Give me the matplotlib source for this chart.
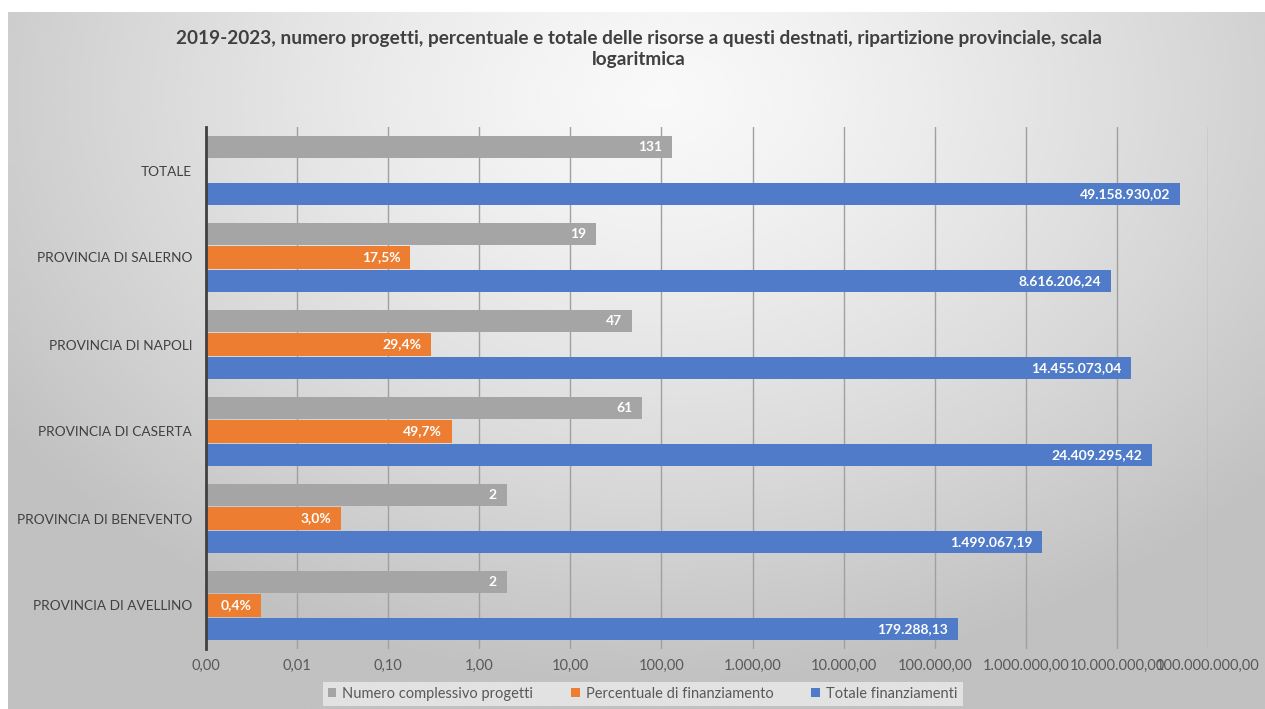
import numpy as np
import matplotlib
matplotlib.use("Agg")
import matplotlib.pyplot as plt
from matplotlib.ticker import FixedLocator, FuncFormatter

plt.rcParams["font.family"] = ["Lato", "DejaVu Sans"]

# data, bottom to top as in the chart
province = ["PROVINCIA DI AVELLINO", "PROVINCIA DI BENEVENTO", "PROVINCIA DI CASERTA",
            "PROVINCIA DI NAPOLI", "PROVINCIA DI SALERNO", "TOTALE"]
numero_progetti = [2, 2, 61, 47, 19, 131]
percentuale = [0.004, 0.030, 0.497, 0.294, 0.175, np.nan]
totale_fin = [179288.13, 1499067.19, 24409295.42, 14455073.04, 8616206.24, 49158930.02]
x_ticks = [1e-3, 1e-2, 1e-1, 1, 10, 100, 1e3, 1e4, 1e5, 1e6, 1e7, 1e8]

col_grey = "#a5a5a5"
col_orange = "#ed7d31"
col_blue = "#4f7bc8"


def it_num(v, dec=2):
    s = f"{v:,.{dec}f}"
    return s.replace(",", "X").replace(".", ",").replace("X", ".")


W, H = 1265, 709
fig = plt.figure(figsize=(W / 100, H / 100), dpi=100, facecolor="white")

# radial grey background of the chart area
bg = fig.add_axes([8 / W, 0, 1 - 8 / W, 1 - 12 / H], zorder=-5)
gx, gy = np.meshgrid(np.linspace(0, 1, 400), np.linspace(0, 1, 240))
dist = np.sqrt(((gx - 0.52) * 1.0) ** 2 + ((gy - 0.12) * 0.75) ** 2)
shade = 0.975 - 0.22 * np.clip(dist / 0.64, 0, 1) ** 1.3
bg.imshow(shade, cmap="gray", vmin=0, vmax=1, aspect="auto",
          extent=[0, 1, 1, 0], interpolation="bicubic")
bg.set_xlim(0, 1)
bg.set_ylim(1, 0)
bg.axis("off")

ax = fig.add_axes([206 / W, 1 - 649 / H, (1208 - 206) / W, (649 - 127) / H])
ax.patch.set_alpha(0)

y = np.arange(len(province))
pitch = 0.27
h = 0.255

b1 = ax.barh(y + pitch, numero_progetti, height=h, color=col_grey, zorder=3,
             label="Numero complessivo progetti")
b2 = ax.barh(y, percentuale, height=h, color=col_orange, zorder=3,
             label="Percentuale di finanziamento")
b3 = ax.barh(y - pitch, totale_fin, height=h, color=col_blue, zorder=3,
             label="Totale finanziamenti")

lab_kw = dict(textcoords="offset points", ha="right", va="center",
              color="white", fontsize=10, fontweight="bold", zorder=4)
for yi, v in zip(y, numero_progetti):
    ax.annotate(f"{v}", (v, yi + pitch), xytext=(-7, 0), **lab_kw)
for yi, v in zip(y, percentuale):
    if not np.isnan(v):
        ax.annotate(it_num(v * 100, 1) + "%", (v, yi), xytext=(-7, 0), **lab_kw)
for yi, v in zip(y, totale_fin):
    ax.annotate(it_num(v), (v, yi - pitch), xytext=(-7, 0), **lab_kw)

ax.set_xscale("log")
ax.set_xlim(x_ticks[0], x_ticks[-1])
ax.set_ylim(-0.5, 5.5)
ax.xaxis.set_major_locator(FixedLocator(x_ticks))
ax.xaxis.set_minor_locator(FixedLocator([]))
ax.xaxis.set_major_formatter(FuncFormatter(lambda v, p: it_num(v)))
ax.set_yticks(y)
ax.set_yticklabels(province)
ax.tick_params(axis="x", length=0, pad=7, labelsize=10.5, labelcolor="#595959")
ax.tick_params(axis="y", length=0, pad=10, labelsize=9.8, labelcolor="#404040")
ax.grid(axis="x", color="#a0a0a0", linewidth=1, zorder=0)
for s in ["top", "right", "bottom"]:
    ax.spines[s].set_visible(False)
ax.spines["left"].set_color("#404040")
ax.spines["left"].set_linewidth(2)
ax.spines["left"].set_zorder(5)

fig.text(0.505, 1 - 49 / H,
         "2019-2023, numero progetti, percentuale e totale delle risorse a questi destnati, ripartizione provinciale, scala\nlogaritmica",
         ha="center", va="center", fontsize=13.7, fontweight="bold", color="#404040",
         linespacing=1.3)

leg = fig.legend(handles=[b1, b2, b3], loc="center", bbox_to_anchor=(0.508, 1 - 694 / H),
                 ncol=3, frameon=True, fontsize=10.5, handlelength=0.6, handleheight=0.6,
                 handletextpad=0.4, columnspacing=2.6, borderpad=0.35, fancybox=False)
leg.get_frame().set_facecolor("#ebebeb")
leg.get_frame().set_edgecolor("none")
leg.get_frame().set_alpha(0.8)
for t in leg.get_texts():
    t.set_color("#595959")

fig.savefig("out.png", dpi=100, facecolor="white")
